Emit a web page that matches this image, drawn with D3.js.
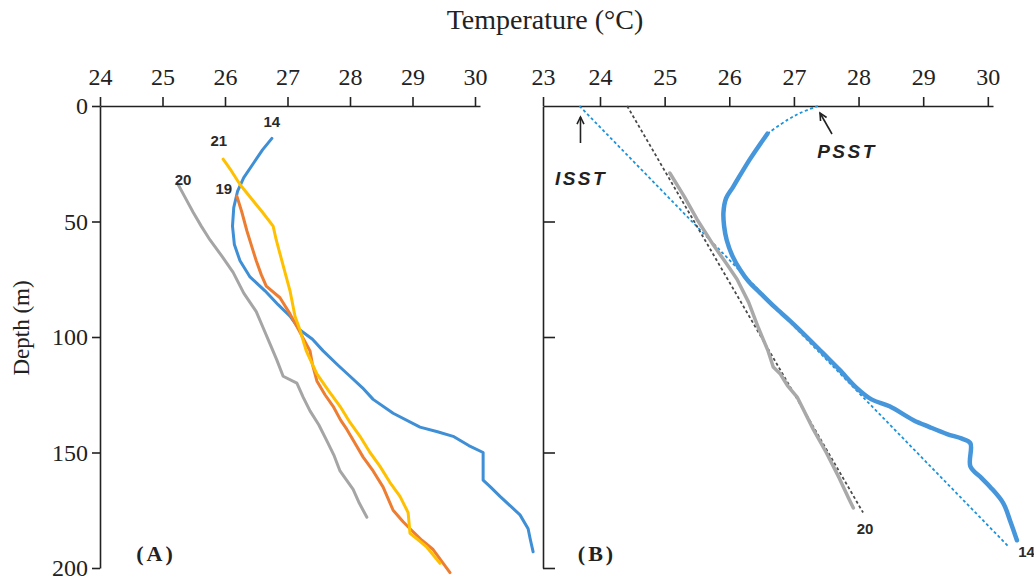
<!DOCTYPE html>
<html>
<head>
<meta charset="utf-8">
<script src="https://cdn.jsdelivr.net/npm/d3@7"></script>
<style>
  body { margin: 0; background: #fff; }
  svg { display: block; }
</style>
</head>
<body>
<div id="chart"></div>
<script>
// tick values
var leftTempTicks = [24, 25, 26, 27, 28, 29, 30];
var rightTempTicks = [23, 24, 25, 26, 27, 28, 29, 30];
var depthTicks = [0, 50, 100, 150, 200];

// panel A profiles, [temperature, depth]
var st14A = [[26.75,14],[26.6,19],[26.45,25],[26.3,31],[26.2,37],[26.14,44],[26.12,52],[26.15,60],[26.24,67],
  [26.4,74],[26.64,80],[26.85,86],[27.04,91],[27.2,97],[27.4,101],[27.57,106],[27.8,112],[28.0,117],[28.2,122],
  [28.37,127],[28.69,133],[29.12,139],[29.4,141],[29.65,143],[29.9,147],[30.13,150],[30.13,162],[30.25,165],
  [30.4,169],[30.6,174],[30.72,177],[30.85,183],[30.88,187],[30.93,193]];
var st19A = [[26.19,39],[26.27,46],[26.35,54],[26.43,61],[26.5,67],[26.58,73],[26.66,78],[26.88,83],[27.04,90],
  [27.2,98],[27.36,106],[27.4,112],[27.47,119],[27.6,125],[27.73,130],[27.85,136],[27.95,140],[28.08,146],
  [28.21,152],[28.37,158],[28.53,165],[28.69,175],[28.85,180],[28.96,183],[29.15,188],[29.33,192],[29.6,202]];
var st21A = [[25.97,23],[26.1,28],[26.24,34],[26.45,41],[26.6,46],[26.77,52],[26.82,58],[26.88,64],[26.96,72],
  [27.04,80],[27.12,91],[27.2,97],[27.3,106],[27.47,116],[27.65,123],[27.84,130],[28.0,137],[28.16,143],
  [28.32,150],[28.48,156],[28.64,163],[28.8,169],[28.93,176],[28.96,185],[29.1,188],[29.23,191],[29.44,198]];
var st20A = [[25.25,34],[25.37,40],[25.49,46],[25.62,52],[25.76,58],[25.95,65],[26.13,72],[26.3,81],[26.5,89],
  [26.61,96],[26.72,103],[26.83,110],[26.93,117],[27.15,120],[27.25,126],[27.36,132],[27.5,138],[27.63,145],
  [27.74,151],[27.84,158],[28.05,166],[28.15,172],[28.27,178]];

// panel B profiles and fitted lines
var st14B = [[26.59,12],[26.32,23],[26.06,35],[25.95,40],[25.91,46],[25.92,52],[25.96,58],[26.05,65],[26.17,71],
  [26.3,76],[26.48,81],[26.7,87],[26.94,93],[27.2,100],[27.45,107],[27.7,114],[27.97,122],[28.2,127],[28.48,130],
  [28.85,136],[29.1,139],[29.37,142],[29.6,144],[29.73,146],[29.73,156],[29.9,161],[30.04,165],[30.24,172],
  [30.35,180],[30.45,188]];
var st20B = [[25.08,29],[25.3,39],[25.5,49],[25.75,60],[25.95,68],[26.12,75],[26.3,85],[26.45,96],[26.6,106],
  [26.68,113],[26.79,116],[26.9,121],[27.05,126],[27.3,140],[27.5,150],[27.7,161],[27.85,170],[27.92,174]];
var psstCurve = [[26.59,12],[26.9,6],[27.1,3],[27.37,0]];
var isstLine = [[23.64,0],[30.33,191]];
var fit20Line = [[24.42,0],[28.07,176]];

var width = 1034, height = 580;
var svg = d3.select("#chart").append("svg")
    .attr("width", width)
    .attr("height", height);

var serif = "'Liberation Serif', 'Times New Roman', serif";
var sans = "'Liberation Sans', Arial, sans-serif";

var y = d3.scaleLinear().domain([0, 200]).range([106, 568]);
var xA = d3.scaleLinear().domain([24, 30.08]).range([100, 480]);
var xB = d3.scaleLinear().domain([23, 24, 30.08]).range([543, 600, 993]);

function styleAxis(g) {
    g.selectAll("path, line").attr("stroke", "#222").attr("stroke-width", 1.6);
    g.selectAll("text").attr("fill", "#222").style("font-family", serif).style("font-size", "24px");
}

// top axes
svg.append("g").attr("transform", "translate(0,106)")
    .call(d3.axisTop(xA).tickValues(leftTempTicks).tickFormat(d3.format("d"))
        .tickSize(9).tickSizeOuter(0).tickPadding(12))
    .call(styleAxis);
svg.append("g").attr("transform", "translate(0,106)")
    .call(d3.axisTop(xB).tickValues(rightTempTicks).tickFormat(d3.format("d"))
        .tickSize(9).tickSizeOuter(0).tickPadding(12))
    .call(styleAxis);

// depth axes
svg.append("g").attr("transform", "translate(100,0)")
    .call(d3.axisLeft(y).tickValues(depthTicks).tickSize(8).tickSizeOuter(0).tickPadding(4))
    .call(styleAxis);
svg.append("g").attr("transform", "translate(543,0)")
    .call(d3.axisRight(y).tickValues(depthTicks.slice(1)).tickSize(12).tickSizeOuter(0).tickFormat(""))
    .call(styleAxis);

// titles
svg.append("text")
    .attr("x", 545).attr("y", 29)
    .attr("text-anchor", "middle")
    .style("font-family", serif).style("font-size", "28px")
    .attr("fill", "#222")
    .text("Temperature (°C)");

svg.append("text")
    .attr("transform", "translate(29,328) rotate(-90)")
    .attr("text-anchor", "middle")
    .style("font-family", serif).style("font-size", "23px")
    .attr("fill", "#222")
    .text("Depth (m)");

svg.append("text").attr("x", 156).attr("y", 561).attr("text-anchor", "middle")
    .style("font-family", serif).style("font-size", "22px").style("font-weight", "bold")
    .style("letter-spacing", "3px").attr("fill", "#222").text("(A)");
svg.append("text").attr("x", 597).attr("y", 561).attr("text-anchor", "middle")
    .style("font-family", serif).style("font-size", "22px").style("font-weight", "bold")
    .style("letter-spacing", "3px").attr("fill", "#222").text("(B)");

// lines
function lineFor(xs, curve) {
    return d3.line().x(function(d) { return xs(d[0]); }).y(function(d) { return y(d[1]); })
        .curve(curve || d3.curveLinear);
}

function drawLine(data, xs, color, w, dash, curve) {
    var p = svg.append("path").datum(data)
        .attr("fill", "none")
        .attr("stroke", color)
        .attr("stroke-width", w)
        .attr("stroke-linejoin", "round")
        .attr("stroke-linecap", "round")
        .attr("d", lineFor(xs, curve));
    if (dash) p.attr("stroke-dasharray", dash).attr("stroke-linecap", "butt");
    return p;
}

// panel A
drawLine(st20A, xA, "#a5a5a5", 3);
drawLine(st14A, xA, "#3f8fd6", 3);
drawLine(st19A, xA, "#ed7d31", 3);
drawLine(st21A, xA, "#ffc000", 3);

// panel B
drawLine(isstLine, xB, "#1b93dc", 1.8, "3,2.5");
drawLine(fit20Line, xB, "#4a4a4a", 1.8, "3,2.5");
drawLine(st20B, xB, "#a9a9a9", 3.5);
drawLine(psstCurve, xB, "#1b93dc", 1.8, "3,2.5", d3.curveCatmullRom);
drawLine(st14B, xB, "#4696dc", 4.5, null, d3.curveCatmullRom);

// station labels
var stationLabels = [
    {t: "14", x: xA(26.75), y: y(7)},
    {t: "21", x: xA(25.9), y: y(15)},
    {t: "20", x: xA(25.33), y: y(32)},
    {t: "19", x: xA(25.98), y: y(36)},
    {t: "20", x: xB(28.1), y: y(183)},
    {t: "14", x: xB(30.6), y: y(193)}
];
svg.selectAll(".stlab").data(stationLabels).enter().append("text")
    .attr("x", function(d) { return d.x; })
    .attr("y", function(d) { return d.y; })
    .attr("dy", "0.35em")
    .attr("text-anchor", "middle")
    .style("font-family", sans).style("font-size", "15px").style("font-weight", "bold")
    .attr("fill", "#2a2a2a")
    .text(function(d) { return d.t; });

// ISST / PSST annotations
function arrow(x1, y1, x2, y2) {
    svg.append("line").attr("x1", x1).attr("y1", y1).attr("x2", x2).attr("y2", y2)
        .attr("stroke", "#222").attr("stroke-width", 1.6);
    var a = Math.atan2(y2 - y1, x2 - x1), L = 8, s = 0.45;
    svg.append("path")
        .attr("d", "M" + (x2 - L * Math.cos(a - s)) + "," + (y2 - L * Math.sin(a - s)) +
            "L" + x2 + "," + y2 +
            "L" + (x2 - L * Math.cos(a + s)) + "," + (y2 - L * Math.sin(a + s)))
        .attr("fill", "none").attr("stroke", "#222").attr("stroke-width", 1.6);
}
arrow(xB(23.64) + 1, 143, xB(23.64) + 1, 117);
arrow(832, 134, 820, 113);

svg.append("text").attr("x", 581).attr("y", 185).attr("text-anchor", "middle")
    .style("font-family", sans).style("font-size", "19px").style("font-weight", "bold")
    .style("font-style", "italic").style("letter-spacing", "2.5px").attr("fill", "#222").text("ISST");
svg.append("text").attr("x", 847).attr("y", 158).attr("text-anchor", "middle")
    .style("font-family", sans).style("font-size", "19px").style("font-weight", "bold")
    .style("font-style", "italic").style("letter-spacing", "2.5px").attr("fill", "#222").text("PSST");
</script>
</body>
</html>
